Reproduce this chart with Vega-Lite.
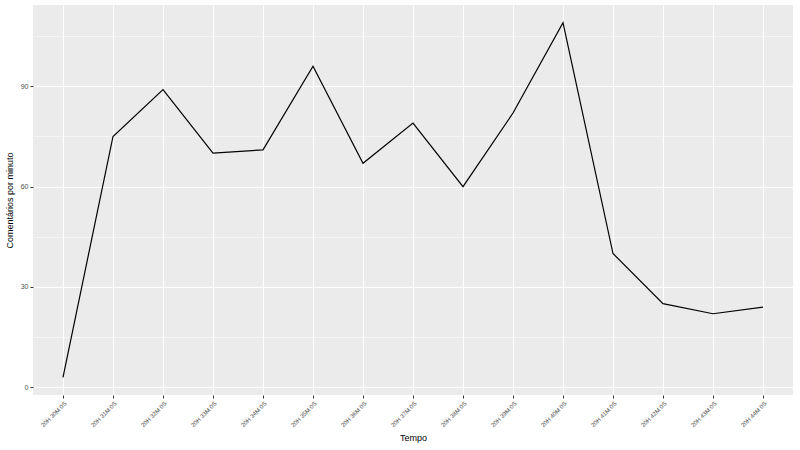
{
  "$schema": "https://vega.github.io/schema/vega-lite/v6.json",
  "width": 760,
  "height": 390,
  "autosize": {"type": "none"},
  "padding": {"left": 33, "top": 5, "right": 7, "bottom": 55},
  "background": "white",
  "config": {
    "view": {"fill": "#EBEBEB", "stroke": null},
    "font": "Liberation Sans"
  },
  "data": {
    "values": [
      {"t": "20H 30M 0S", "v": 3},
      {"t": "20H 31M 0S", "v": 75},
      {"t": "20H 32M 0S", "v": 89},
      {"t": "20H 33M 0S", "v": 70},
      {"t": "20H 34M 0S", "v": 71},
      {"t": "20H 35M 0S", "v": 96},
      {"t": "20H 36M 0S", "v": 67},
      {"t": "20H 37M 0S", "v": 79},
      {"t": "20H 38M 0S", "v": 60},
      {"t": "20H 39M 0S", "v": 82},
      {"t": "20H 40M 0S", "v": 109},
      {"t": "20H 41M 0S", "v": 40},
      {"t": "20H 42M 0S", "v": 25},
      {"t": "20H 43M 0S", "v": 22},
      {"t": "20H 44M 0S", "v": 24}
    ]
  },
  "mark": {"type": "line", "color": "black", "strokeWidth": 1.2},
  "encoding": {
    "x": {
      "field": "t",
      "type": "ordinal",
      "sort": null,
      "scale": {"type": "point", "padding": 0.6},
      "axis": {
        "title": "Tempo",
        "titleFont": "Liberation Sans",
        "titleFontSize": 9,
        "titleFontWeight": "normal",
        "titleColor": "black",
        "titlePadding": 6,
        "labelAngle": -45,
        "labelAlign": "right",
        "labelBaseline": "top",
        "labelFontSize": 6,
        "labelColor": "#4D4D4D",
        "labelPadding": 2,
        "tickSize": 3,
        "tickColor": "#333333",
        "domain": false,
        "grid": true,
        "gridColor": "white",
        "gridWidth": 1.1
      }
    },
    "y": {
      "field": "v",
      "type": "quantitative",
      "scale": {"domain": [-2.3, 114.3], "nice": false, "zero": false},
      "axis": {
        "title": "Comentários por minuto",
        "titleFont": "Liberation Sans",
        "titleFontSize": 9,
        "titleFontWeight": "normal",
        "titleColor": "black",
        "titlePadding": 6,
        "values": [0, 15, 30, 45, 60, 75, 90, 105],
        "labelExpr": "datum.value % 30 === 0 ? datum.label : ''",
        "labelFontSize": 7,
        "labelColor": "#4D4D4D",
        "labelPadding": 2,
        "tickSize": 3,
        "tickColor": "#333333",
        "tickOpacity": {"condition": {"test": "datum.value % 30 === 0", "value": 1}, "value": 0},
        "domain": false,
        "grid": true,
        "gridColor": "white",
        "gridWidth": {"condition": {"test": "datum.value % 30 === 0", "value": 1.1}, "value": 0.5}
      }
    }
  }
}
